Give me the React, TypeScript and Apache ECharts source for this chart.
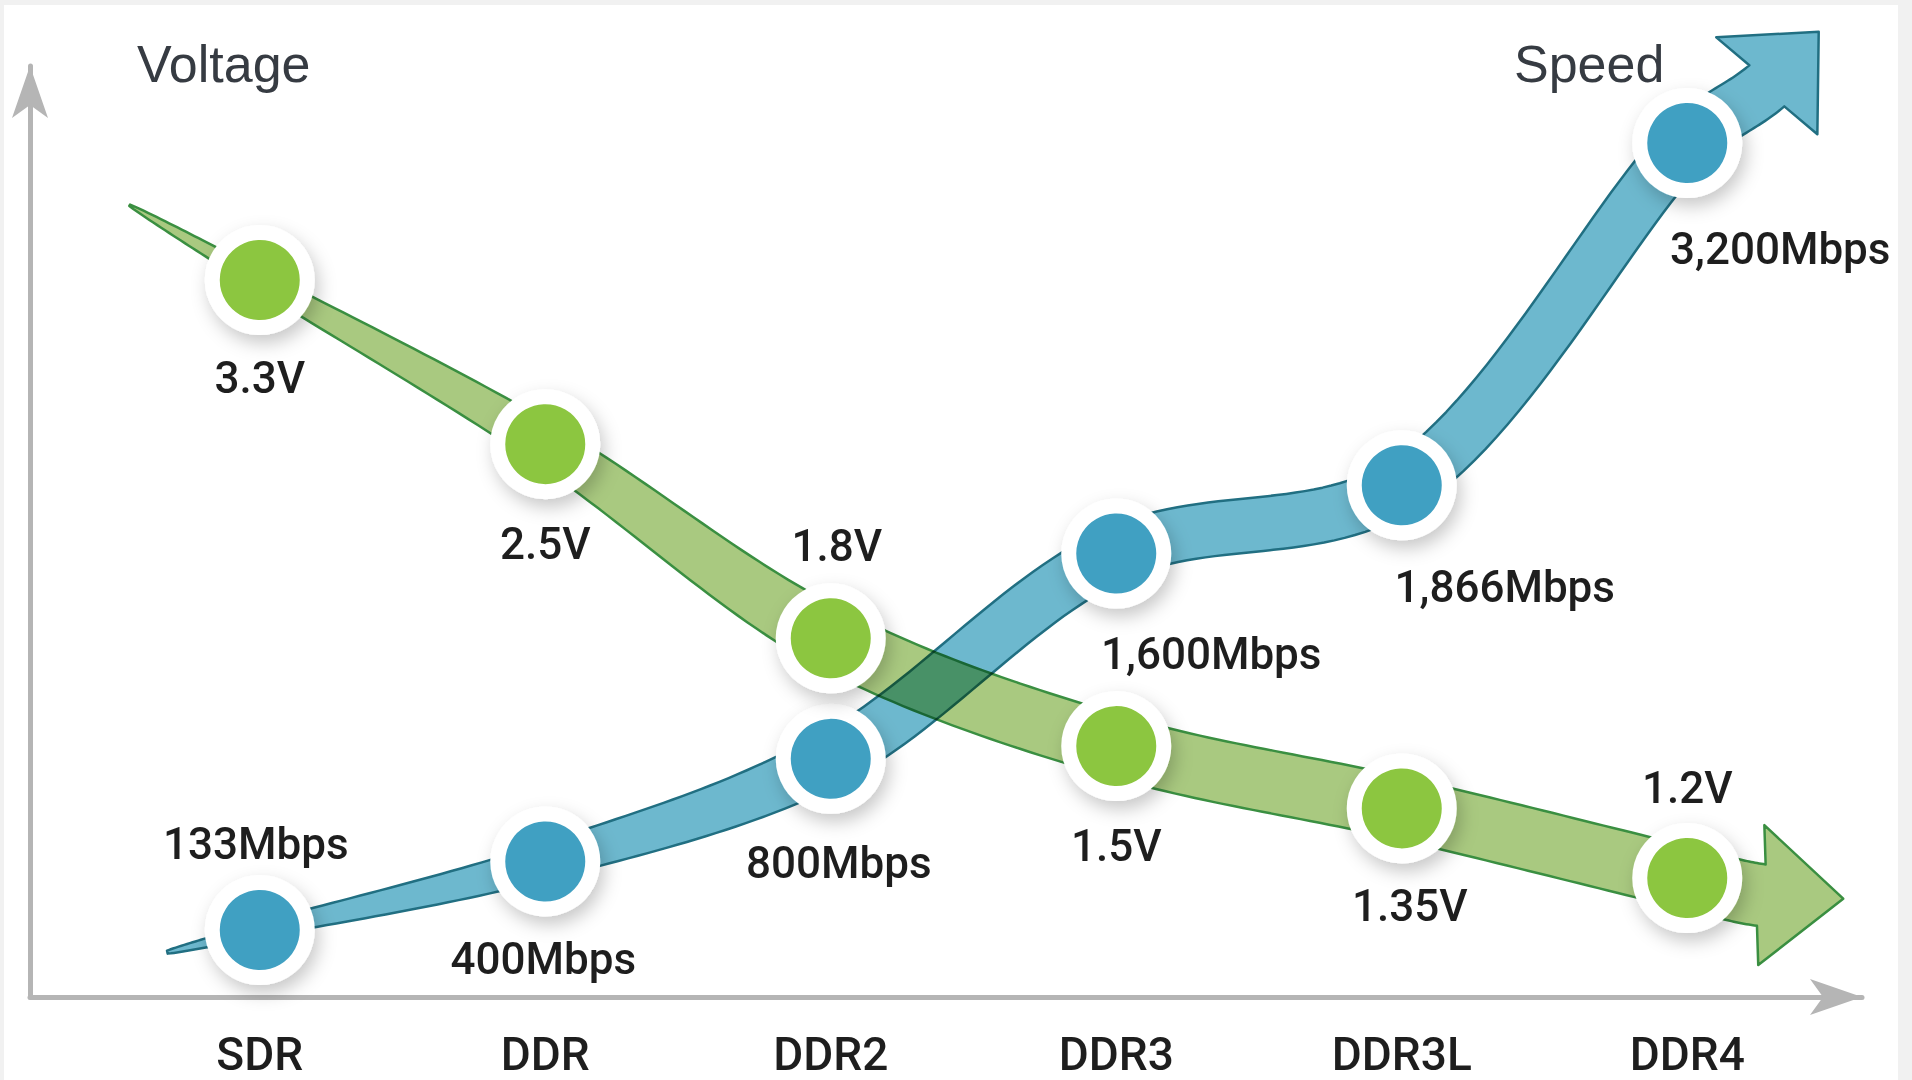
import React, { useEffect, useRef } from "react";
import * as echarts from "echarts";

// ---------------- data ----------------
const categories = ["SDR", "DDR", "DDR2", "DDR3", "DDR3L", "DDR4"];
const voltage = [3.3, 2.5, 1.8, 1.5, 1.35, 1.2];
const speed = [133, 400, 800, 1600, 1866, 3200];
const axisTitles = ["Voltage", "Speed"];

// ---------------- layout / style (not data) ----------------
const voltageLabelOffsets = [[0, 98], [0, 100], [6, -92], [0, 100], [8, 98], [0, -90]];
const speedLabelOffsets = [[-4, -86], [-2, 98], [8, 104], [95, 100], [103, 102], [93, 106]];

const GREEN_DOT = "#8cc63f";
const GREEN_BAND = "#a9c980";
const GREEN_LINE = "#3a8f41";
const BLUE_DOT = "#41a0c2";
const BLUE_BAND = "#6db8ce";
const BLUE_LINE = "#216f82";
const AXIS_GRAY = "#b5b5b5";
const TEXT = "#1e1e1e";

type Pt = [number, number];
const add = (a: Pt, b: Pt): Pt => [a[0] + b[0], a[1] + b[1]];
const sub = (a: Pt, b: Pt): Pt => [a[0] - b[0], a[1] - b[1]];
const mul = (a: Pt, k: number): Pt => [a[0] * k, a[1] * k];
const len = (a: Pt) => Math.hypot(a[0], a[1]);
const norm = (a: Pt): Pt => { const l = len(a) || 1; return [a[0] / l, a[1] / l]; };
const rot = (a: Pt, deg: number): Pt => {
  const r = (deg * Math.PI) / 180;
  return [a[0] * Math.cos(r) - a[1] * Math.sin(r), a[0] * Math.sin(r) + a[1] * Math.cos(r)];
};

function crPoint(p0: Pt, p1: Pt, p2: Pt, p3: Pt, u: number): Pt {
  const t0 = 0;
  const t1 = t0 + Math.pow(len(sub(p1, p0)), 0.5);
  const t2 = t1 + Math.pow(len(sub(p2, p1)), 0.5);
  const t3 = t2 + Math.pow(len(sub(p3, p2)), 0.5);
  const t = t1 + (t2 - t1) * u;
  const lerp = (a: Pt, b: Pt, ta: number, tb: number): Pt =>
    add(mul(a, (tb - t) / (tb - ta)), mul(b, (t - ta) / (tb - ta)));
  const A1 = lerp(p0, p1, t0, t1);
  const A2 = lerp(p1, p2, t1, t2);
  const A3 = lerp(p2, p3, t2, t3);
  const B1 = lerp(A1, A2, t0, t2);
  const B2 = lerp(A2, A3, t1, t3);
  return lerp(B1, B2, t1, t2);
}

interface RibbonCfg {
  startLen: number; endLen: number; bend: number;
  wMin: number; wMax: number; headHalf: number; headLen: number;
  fill: string; stroke: string;
}

function buildRibbon(pts: Pt[], cfg: RibbonCfg): Pt[] {
  const n = pts.length;
  const S = add(pts[0], mul(norm(sub(pts[0], pts[1])), cfg.startLen));
  const chord = norm(sub(pts[n - 1], pts[n - 3]));
  const B = add(pts[n - 1], mul(chord, cfg.endLen));
  const head = norm(rot(chord, cfg.bend));
  const nodes: Pt[] = [S, ...pts, B];
  const ctrl: Pt[] = [add(S, sub(S, pts[0])), ...nodes, add(B, mul(head, cfg.endLen))];
  const SEG = 30;
  const samples: Pt[] = [];
  const nodeIdx: number[] = [];
  for (let i = 0; i < ctrl.length - 3; i++) {
    nodeIdx.push(samples.length);
    for (let j = 0; j < SEG; j++) samples.push(crPoint(ctrl[i], ctrl[i + 1], ctrl[i + 2], ctrl[i + 3], j / SEG));
  }
  nodeIdx.push(samples.length);
  samples.push(B);
  const arc: number[] = [0];
  for (let k = 1; k < samples.length; k++) arc.push(arc[k - 1] + len(sub(samples[k], samples[k - 1])));
  const ramp = arc[nodeIdx[3]];
  const left: Pt[] = [];
  const right: Pt[] = [];
  const N = samples.length;
  for (let k = 0; k < N; k++) {
    const tg = norm(sub(samples[Math.min(k + 1, N - 1)], samples[Math.max(k - 1, 0)]));
    const nr: Pt = [-tg[1], tg[0]];
    const w = cfg.wMin + (cfg.wMax - cfg.wMin) * Math.pow(Math.min(1, arc[k] / ramp), 0.75);
    left.push(add(samples[k], mul(nr, w / 2)));
    right.push(sub(samples[k], mul(nr, w / 2)));
  }
  const hn: Pt = [-head[1], head[0]];
  const barbL = add(B, mul(hn, cfg.headHalf));
  const barbR = sub(B, mul(hn, cfg.headHalf));
  const tip = add(B, mul(head, cfg.headLen));
  return [...left, barbL, tip, barbR, ...right.reverse()];
}

const greenCfg: RibbonCfg = {
  startLen: 150, endLen: 76, bend: -10.5, wMin: 1.5, wMax: 62,
  headHalf: 70, headLen: 82, fill: GREEN_BAND, stroke: GREEN_LINE,
};
const blueCfg: RibbonCfg = {
  startLen: 95, endLen: 98, bend: -10.5, wMin: 3, wMax: 54,
  headHalf: 70, headLen: 75, fill: BLUE_BAND, stroke: BLUE_LINE,
};

const makeRenderer = (values: number[], cfg: RibbonCfg) => (params: any, api: any) => {
  if (params.dataIndex !== 0) return null;
  const pts = values.map((v, i) => api.coord([i, v]) as Pt);
  return {
    type: "polygon",
    shape: { points: buildRibbon(pts, cfg) },
    style: { fill: cfg.fill, stroke: cfg.stroke, lineWidth: 2.5, lineJoin: "round" },
  };
};

const labelFont = { fontFamily: "Roboto", fontSize: 44, fontWeight: 500, color: TEXT, textBorderWidth: 0 };
const frameAxisLine = {
  show: true,
  symbol: ["none", "arrow"],
  symbolSize: [27, 52],
  lineStyle: { color: AXIS_GRAY, width: 5 },
};

export default function App() {
  const ref = useRef<HTMLDivElement>(null);
  useEffect(() => {
    document.body.style.margin = "0";
    if (!ref.current) return;
    const chart = echarts.init(ref.current, null, { renderer: "svg" });
    const option: any = {
      animation: false,
      backgroundColor: "#ffffff",
      graphic: [
        { type: "rect", shape: { x: 0, y: 0, width: 1912, height: 5 }, style: { fill: "#f1f1f1" }, silent: true },
        { type: "rect", shape: { x: 0, y: 0, width: 4, height: 1080 }, style: { fill: "#f1f1f1" }, silent: true },
        { type: "rect", shape: { x: 1898, y: 0, width: 14, height: 1080 }, style: { fill: "#f1f1f1" }, silent: true },
        {
          type: "text", x: 137, y: 64,
          style: { text: axisTitles[0], fill: "#363b42", font: '52px "Liberation Sans", Arial, sans-serif', verticalAlign: "middle" },
        },
        {
          type: "text", x: 1514, y: 64,
          style: { text: axisTitles[1], fill: "#363b42", font: '52px "Liberation Sans", Arial, sans-serif', verticalAlign: "middle" },
        },
      ],
      grid: [
        { left: 30, top: 66, right: 50, bottom: 83 },
        { left: 117, right: 82, top: 0, bottom: 83 },
      ],
      xAxis: [
        {
          gridIndex: 0, type: "value", min: 0, max: 1,
          axisLine: frameAxisLine, axisTick: { show: false }, axisLabel: { show: false }, splitLine: { show: false },
        },
        {
          gridIndex: 1, type: "category", data: categories, boundaryGap: true,
          axisLine: { show: false }, axisTick: { show: false }, splitLine: { show: false },
          axisLabel: {
            margin: 34, fontFamily: "Roboto", fontSize: 46, lineHeight: 46, fontWeight: 500, color: TEXT,
          },
        },
      ],
      yAxis: [
        {
          gridIndex: 0, type: "value", min: 0, max: 1,
          axisLine: frameAxisLine, axisTick: { show: false }, axisLabel: { show: false }, splitLine: { show: false },
        },
        { gridIndex: 1, type: "log", min: 0.9812, max: 5.2998, show: false, splitLine: { show: false } },
        { gridIndex: 1, type: "value", min: -128.1, max: 3757.3, show: false, splitLine: { show: false } },
      ],
      series: [
        {
          type: "custom", name: "Speed band", xAxisIndex: 1, yAxisIndex: 2, z: 2, silent: true, clip: false,
          renderItem: makeRenderer(speed, blueCfg),
          data: speed.map((v, i) => [i, v]),
        },
        {
          type: "custom", name: "Voltage band", xAxisIndex: 1, yAxisIndex: 1, z: 3, silent: true, clip: false,
          renderItem: makeRenderer(voltage, greenCfg),
          data: voltage.map((v, i) => [i, v]),
        },
        {
          type: "scatter", name: "Speed", xAxisIndex: 1, yAxisIndex: 2, z: 4, silent: true,
          symbol: "circle", symbolSize: 95,
          itemStyle: {
            color: BLUE_DOT, opacity: 1, borderColor: "#ffffff", borderWidth: 15,
            shadowBlur: 18, shadowColor: "rgba(0,0,0,0.22)", shadowOffsetX: 4, shadowOffsetY: 8,
          },
          label: {
            show: true, position: "inside", ...labelFont,
            formatter: (p: any) => `${Number(p.value[1]).toLocaleString("en-US")}Mbps`,
          },
          data: speed.map((v, i) => ({ value: [i, v], label: { offset: speedLabelOffsets[i] } })),
        },
        {
          type: "scatter", name: "Voltage", xAxisIndex: 1, yAxisIndex: 1, z: 5, silent: true,
          symbol: "circle", symbolSize: 95,
          itemStyle: {
            color: GREEN_DOT, opacity: 1, borderColor: "#ffffff", borderWidth: 15,
            shadowBlur: 18, shadowColor: "rgba(0,0,0,0.22)", shadowOffsetX: 4, shadowOffsetY: 8,
          },
          label: {
            show: true, position: "inside", ...labelFont,
            formatter: (p: any) => `${p.value[1]}V`,
          },
          data: voltage.map((v, i) => ({ value: [i, v], label: { offset: voltageLabelOffsets[i] } })),
        },
      ],
    };
    chart.setOption(option);
    const applyBlend = () => {
      const root = ref.current;
      if (!root) return;
      root.querySelectorAll("path").forEach((p) => {
        const f = (p.getAttribute("fill") || "").toLowerCase().replace(/\s/g, "");
        if (f === GREEN_BAND || f === "rgb(169,201,128)") {
          (p as any).style.mixBlendMode = "multiply";
        }
      });
    };
    applyBlend();
    chart.on("finished", applyBlend);
    const t = setTimeout(applyBlend, 50);
    return () => {
      clearTimeout(t);
      chart.dispose();
    };
  }, []);
  return (
    <div
      ref={ref}
      style={{ position: "absolute", left: 0, top: 0, width: 1912, height: 1080 }}
    />
  );
}
